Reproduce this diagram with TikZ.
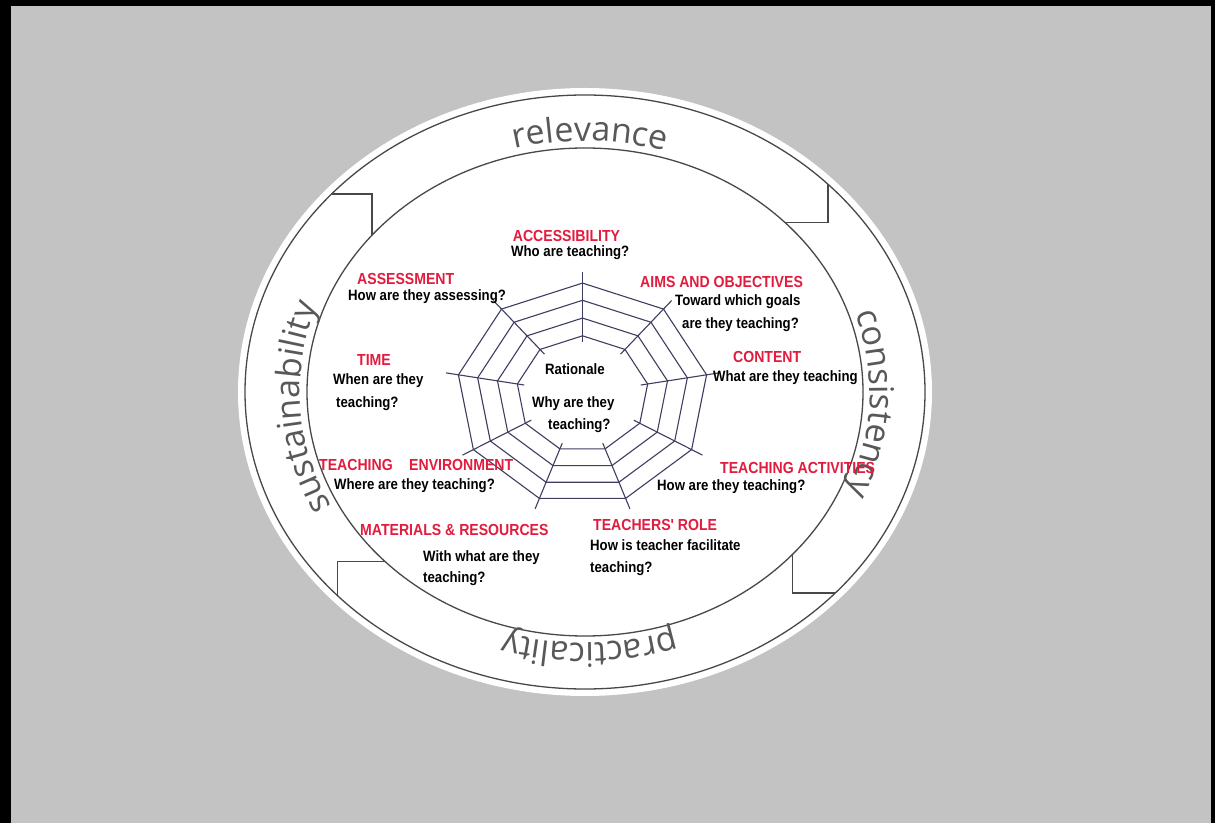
\documentclass[tikz,border=0pt]{standalone}
\usepackage{fontspec}
\usetikzlibrary{decorations.text}
\newfontfamily\labelfamily[FakeStretch=0.88]{Liberation Sans}
\newfontfamily\ringfamily{Open Sans}
\newcommand\ringwordfont{\ringfamily\fontsize{34}{40}\selectfont}
\definecolor{bggray}{RGB}{195,195,195}
\definecolor{ringdark}{RGB}{72,72,72}
\definecolor{ringgray}{RGB}{88,88,88}
\definecolor{webblue}{RGB}{62,62,96}
\definecolor{labelred}{RGB}{226,28,62}
\begin{document}
\begin{tikzpicture}[x=1pt,y=1pt]

    \tikzset{
      ringline/.style={draw=ringdark, line width=1.3pt},
      webline/.style={draw=webblue, line width=1.1pt},
      aim/.style={font=\labelfamily\bfseries\fontsize{16}{18}\selectfont, text=labelred, inner sep=0pt, anchor=base west},
      ask/.style={font=\labelfamily\bfseries\fontsize{15}{17}\selectfont, text=black, inner sep=0pt, anchor=base west},
      ringword/.style={decorate, decoration={text along path, text align=center, text color=ringgray}},
    }
    \useasboundingbox (0,0) rectangle (1215,823);
    \fill[black] (0,0) rectangle (1215,823);
    \fill[bggray] (11,0) rectangle (1211,817);

    \coordinate (C) at (585,431);
    \coordinate (W) at (582.5,428.9);
	\fill[white] (C) ellipse[x radius=347, y radius=304];
	\draw[ringline] (C) ellipse[x radius=340, y radius=297];
	\draw[ringline] (C) ellipse[x radius=278, y radius=244];

	\path (C) ++(44:278 and 244) coordinate (a1in) (C) ++(44.4:340 and 297) coordinate (a1out);
	\path (C) ++(140:278 and 244) coordinate (a2in) (C) ++(138.2:340 and 297) coordinate (a2out);
	\path (C) ++(223.9:278 and 244) coordinate (a3in) (C) ++(223.2:340 and 297) coordinate (a3out);
	\path (C) ++(-41.8:278 and 244) coordinate (a4in) (C) ++(-42.6:340 and 297) coordinate (a4out);
	\draw[ringline] (a1in) -| (a1out);
	\draw[ringline] (a2out) -| (a2in);
	\draw[ringline] (a3in) -| (a3out);
	\draw[ringline] (a4in) |- (a4out);

	\path[ringword, decoration={text={|\ringwordfont|relevance}}] (C) ++(120:285 and 251) arc[start angle=120, end angle=58, x radius=285, y radius=251];
	\path[ringword, decoration={text={|\ringwordfont|consistency}}] (C) ++(30:285 and 251) arc[start angle=30, end angle=-35, x radius=285, y radius=251];
	\path[ringword, decoration={text={|\ringwordfont|practicality}}] (C) ++(-60:285 and 251) arc[start angle=-60, end angle=-118, x radius=285, y radius=251];
	\path[ringword, decoration={text={|\ringwordfont|sustainability}}] (C) ++(216:285 and 251) arc[start angle=216, end angle=151, x radius=285, y radius=251];

	\foreach \r in {1,0.845,0.685,0.525}
	  \draw[webline, shift={(W)}] plot[samples at={90,50,...,-230}] ({126*\r*cos(\x)},{111*\r*sin(\x)}) -- cycle;
	\foreach \a in {90,50,...,-230}
	  \draw[webline] ([shift={(\a:59.2 and 52.2)}]W) -- ([shift={(\a:138.6 and 122.1)}]W);

	\node[aim] (acc) at (512.7,581.5) {ACCESSIBILITY};
	\node[ask] (accq) at (511,566) {Who are teaching?};
	\node[aim] (aims) at (640,535) {AIMS AND OBJECTIVES};
	\node[ask] (aimsq1) at (675,517) {Toward which goals};
	\node[ask] (aimsq2) at (682,494) {are they teaching?};
	\node[aim] (cont) at (733,460) {CONTENT};
	\node[ask] (contq) at (713,441) {What are they teaching};
	\node[aim] (ass) at (357,538) {ASSESSMENT};
	\node[ask] (assq) at (348,522) {How are they assessing?};
	\node[aim] (time) at (357,457) {TIME};
	\node[ask] (timeq1) at (333,438) {When are they};
	\node[ask] (timeq2) at (336,415) {teaching?};
	\node[aim] (env1) at (319,353) {TEACHING};
	\node[aim] (env2) at (409,353) {ENVIRONMENT};
	\node[ask] (envq) at (334,334) {Where are they teaching?};
	\node[aim] (act) at (720,350) {TEACHING ACTIVITIES};
	\node[ask] (actq) at (657,333) {How are they teaching?};
	\node[aim] (role) at (593,293) {TEACHERS' ROLE};
	\node[ask] (roleq1) at (590,273) {How is teacher facilitate};
	\node[ask] (roleq2) at (590,251) {teaching?};
	\node[aim] (mat) at (360,288) {MATERIALS \& RESOURCES};
	\node[ask] (matq1) at (423,262) {With what are they};
	\node[ask] (matq2) at (423,241) {teaching?};
	\node[ask] (rat) at (545,448) {Rationale};
	\node[ask] (ratq1) at (532,415) {Why are they};
	\node[ask] (ratq2) at (548,394) {teaching?};

\end{tikzpicture}
\end{document}
